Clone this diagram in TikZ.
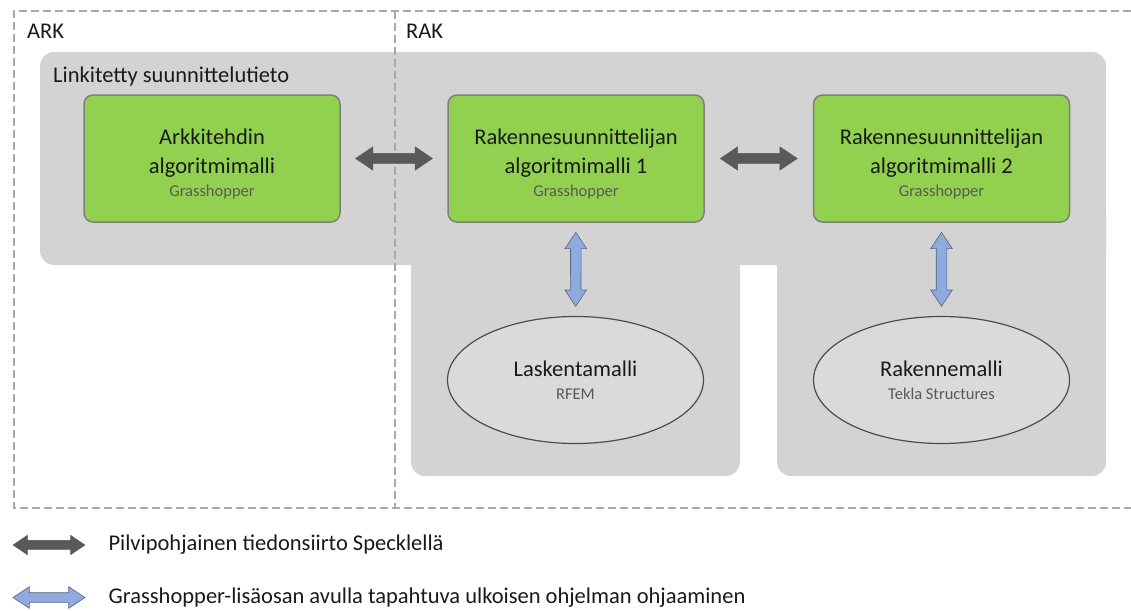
\documentclass[tikz,border=0pt]{standalone}
\usepackage{fontspec}
\setmainfont{Carlito}
\usetikzlibrary{shapes.geometric,shapes.arrows,positioning}
\definecolor{ggreen}{HTML}{92D050}
\definecolor{gborder}{HTML}{7F7F7F}
\definecolor{region}{HTML}{D3D3D3}
\definecolor{modelfill}{HTML}{DADADA}
\definecolor{dashcol}{HTML}{A9A9A9}
\definecolor{arrdark}{HTML}{595959}
\definecolor{arrblue}{HTML}{8FAADC}
\definecolor{arrblueline}{HTML}{55657F}
\definecolor{subgray}{HTML}{595959}
\definecolor{txt}{HTML}{1A1A1A}
\newcommand{\subtxt}[1]{{\fontsize{16.5}{18}\selectfont\color{subgray}#1}}
% extra height on the first line so the box text sits a bit low
\newcommand{\toppad}{\rule{0pt}{26pt}}
\tikzset{
  gbox/.style={draw=gborder, line width=1.5pt, fill=ggreen, rounded corners=9pt,
    minimum width=256pt, minimum height=127pt, align=center},
  model/.style={ellipse, draw=black!70, line width=1.2pt, fill=modelfill,
    minimum width=256pt, minimum height=127pt, align=center, inner sep=0pt},
  specarrow/.style={double arrow, fill=arrdark, draw=arrdark, line width=.4pt,
    inner xsep=0pt, inner ysep=5pt, minimum width=0pt, minimum height=77pt,
    double arrow head extend=6.5pt, double arrow tip angle=68},
  gharrow/.style={double arrow, fill=arrblue, draw=arrblueline, line width=.6pt,
    inner xsep=0pt, inner ysep=5pt, minimum width=0pt, minimum height=74pt,
    double arrow head extend=5.5pt, double arrow tip angle=67},
  teamframe/.style={draw=dashcol, line width=1.3pt, dash pattern=on 8pt off 4pt},
  plain/.style={inner sep=0pt, anchor=base west},
}
\begin{document}
\begin{tikzpicture}[x=1pt, y=-1pt, font=\fontsize{22.5}{29}\selectfont, text=txt]
\useasboundingbox (0,0) rectangle (1131,610);
\fill[white] (0,0) rectangle (1131,610);

% linked design data area
\fill[region, rounded corners=14pt] (40,52) rectangle (1106,265);
\fill[region, rounded corners=14pt] (411,200) rectangle (740,476);
\fill[region, rounded corners=14pt] (777,200) rectangle (1106,476);

% ARK / RAK frames
\draw[teamframe] (1131,11) -- (14,11) -- (14,508) -- (1131,508);
\draw[teamframe] (395,11) -- (395,508);

\node[plain] (ark) at (27,38) {ARK};
\node[plain] (rak) at (406,38) {RAK};
\node[plain] (linked) at (53,82) {Linkitetty suunnittelutieto};

% algorithm models
\node[gbox] (arkalg) at (212,158.5) {\toppad Arkkitehdin\\algoritmimalli\\[-6pt]\subtxt{Grasshopper}};
\node[gbox] (rakalg1) at (576,158.5) {\toppad Rakennesuunnittelijan\\algoritmimalli 1\\[-6pt]\subtxt{Grasshopper}};
\node[gbox] (rakalg2) at (941.5,158.5) {\toppad Rakennesuunnittelijan\\algoritmimalli 2\\[-6pt]\subtxt{Grasshopper}};

% analysis and structural models
\node[model] (calc) at (575.5,380) {Laskentamalli\\[-6pt]\subtxt{RFEM}};
\node[model] (tekla) at (941.5,380) {Rakennemalli\\[-6pt]\subtxt{Tekla Structures}};

\path (arkalg) -- (rakalg1) node[midway, specarrow] {};
\path (rakalg1) -- (rakalg2) node[midway, specarrow] {};
\path (rakalg1) -- (calc) node[midway, sloped, gharrow] {};
\path (rakalg2) -- (tekla) node[midway, sloped, gharrow] {};

% legend
\node[specarrow, minimum height=72pt, inner ysep=4.5pt, double arrow head extend=5pt] (legspeckle) at (49,545) {};
\node[right=23pt of legspeckle, inner sep=0pt] (legspeckletxt) {Pilvipohjainen tiedonsiirto Specklellä};
\node[gharrow, minimum height=72pt, inner ysep=4.5pt, double arrow head extend=6pt] (leggh) at (49,597.5) {};
\node[right=23pt of leggh, inner sep=0pt] (legghtxt) {Grasshopper-lisäosan avulla tapahtuva ulkoisen ohjelman ohjaaminen};
\end{tikzpicture}
\end{document}
